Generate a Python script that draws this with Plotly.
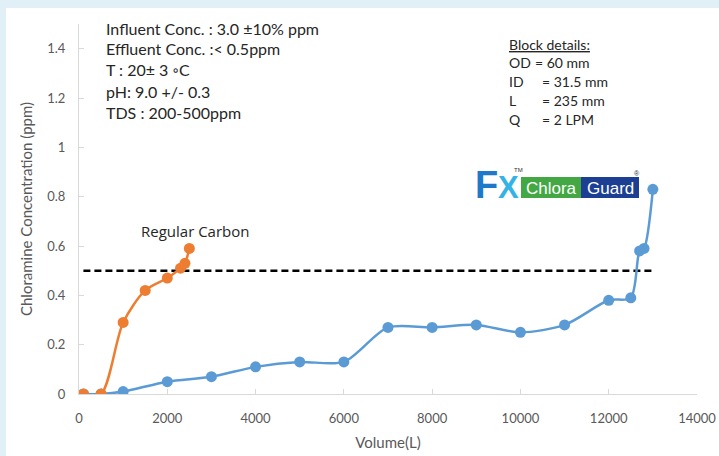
import plotly.graph_objects as go

# ---- data ----
fx_volume = [100, 500, 1000, 2000, 3000, 4000, 5000, 6000, 7000, 8000, 9000, 10000,
             11000, 12000, 12500, 12700, 12800, 13000]
fx_conc = [0, 0, 0.01, 0.05, 0.07, 0.11, 0.13, 0.13, 0.27, 0.27, 0.28, 0.25,
           0.28, 0.38, 0.39, 0.58, 0.59, 0.83]
rc_volume = [100, 500, 1000, 1500, 2000, 2300, 2400, 2500]
rc_conc = [0, 0, 0.29, 0.42, 0.47, 0.51, 0.53, 0.59]
limit_volume = [100, 13000]
limit_conc = [0.5, 0.5]

x_ticks = [0, 2000, 4000, 6000, 8000, 10000, 12000, 14000]
y_ticks = [0, 0.2, 0.4, 0.6, 0.8, 1, 1.2, 1.4]
y_tick_text = ["0", "0.2", "0.4", "0.6", "0.8", "1", "1.2", "1.4"]

conditions = ["Influent Conc. : 3.0 ±10% ppm", "Effluent Conc. :< 0.5ppm",
              "T : 20± 3 ◦C", "pH: 9.0 +/- 0.3", "TDS : 200-500ppm"]
block_labels = ["OD", "ID", "L", "Q"]
block_values = ["= 60 mm", "= 31.5 mm", "= 235 mm", "= 2 LPM"]

W, H = 719, 456
L, R, T, B = 79, 22, 24, 62
PW, PH = W - L - R, H - T - B

def px(x):
    return (x - L) / PW

def py(y):
    return (H - B - y) / PH

BLUE = "#5b9bd5"
ORANGE = "#ed7d31"
FONT = "Lato"
TXT = "#262626"

fig = go.Figure()
fig.add_trace(go.Scatter(x=limit_volume, y=limit_conc, mode="lines",
                         line=dict(color="black", width=2.5, dash="7px,4px"),
                         showlegend=False, hoverinfo="skip"))
fig.add_trace(go.Scatter(x=fx_volume, y=fx_conc, mode="lines+markers",
                         line=dict(color=BLUE, width=2.5, shape="spline", smoothing=0.8),
                         marker=dict(color=BLUE, size=11), showlegend=False))
fig.add_trace(go.Scatter(x=rc_volume, y=rc_conc, mode="lines+markers",
                         line=dict(color=ORANGE, width=2.5, shape="spline", smoothing=0.8),
                         marker=dict(color=ORANGE, size=11), showlegend=False))

shapes = [
    dict(type="rect", xref="paper", yref="paper", x0=px(6), x1=px(W + 5),
         y0=py(H + 5), y1=py(8), fillcolor="white", line_width=0, layer="below"),
    dict(type="rect", xref="paper", yref="paper", x0=px(521), x1=px(581),
         y0=py(198), y1=py(177), fillcolor="#43a843", line_width=0),
    dict(type="rect", xref="paper", yref="paper", x0=px(581), x1=px(639),
         y0=py(198), y1=py(177), fillcolor="#1c3f94", line_width=0),
]

def note(x, y, text, size, color=TXT, family=FONT, xa="left"):
    return dict(x=px(x), y=py(y), xref="paper", yref="paper", text=text,
                showarrow=False, xanchor=xa, yanchor="middle",
                font=dict(family=family, size=size, color=color))

ann = []
for i, t in enumerate(conditions):
    ann.append(note(104, 28 + 21 * i, t, 16))
ann.append(note(507, 44, "<u>Block details:</u>", 14))
eq_x = [533, 540, 540, 540]
for i, (lab, val) in enumerate(zip(block_labels, block_values)):
    ann.append(note(507, 62.8 + 18.8 * i, lab, 14))
    ann.append(note(eq_x[i], 62.8 + 18.8 * i, val, 14))
ann.append(note(195, 231, "Regular Carbon", 15, family="Open Sans", xa="center"))
# logo
ann.append(note(486, 185, "<b>F</b>", 38, color="#1f78c8", family="Liberation Sans", xa="center"))
ann.append(note(509, 187, "<b>X</b>", 31, color="#35b2e6", family="Liberation Sans", xa="center"))
ann.append(note(518, 170, "TM", 6, color="#333333", family="Liberation Sans", xa="center"))
ann.append(note(551, 188, "Chlora", 17, color="white", family="Liberation Sans", xa="center"))
ann.append(note(610, 188, "Guard", 17, color="white", family="Liberation Sans", xa="center"))
ann.append(note(637, 173, "®", 7, color="#333333", family="Liberation Sans", xa="center"))

fig.update_layout(
    width=W, height=H, margin=dict(l=L, r=R, t=T, b=B, autoexpand=False),
    paper_bgcolor="#e1f0f6", plot_bgcolor="white",
    shapes=shapes, annotations=ann,
    xaxis=dict(range=[0, 14000], tickvals=x_ticks, ticktext=[str(v) for v in x_ticks],
               automargin=False,
               showgrid=False, zeroline=False, showline=True, linecolor="#d9d9d9",
               linewidth=1, ticks="inside", ticklen=5, tickcolor="#d9d9d9",
               ticklabelstandoff=12,
               tickfont=dict(family=FONT, size=13, color="#595959"),
               title=dict(text="Volume(L)", font=dict(family=FONT, size=15, color="#595959"),
                          standoff=12)),
    yaxis=dict(range=[0, 1.5], tickvals=y_ticks, ticktext=y_tick_text,
               automargin=False,
               showgrid=False, zeroline=False, showline=True, linecolor="#d9d9d9",
               linewidth=1, ticks="inside", ticklen=5, tickcolor="#d9d9d9",
               ticklabelstandoff=10,
               tickfont=dict(family=FONT, size=13, color="#595959"),
               title=dict(text="Chloramine Concentration (ppm)",
                          font=dict(family=FONT, size=15, color="#595959"), standoff=10)),
)

fig.write_html("out.html", config={"displayModeBar": False},
               post_script="document.body.style.margin='0px';")
